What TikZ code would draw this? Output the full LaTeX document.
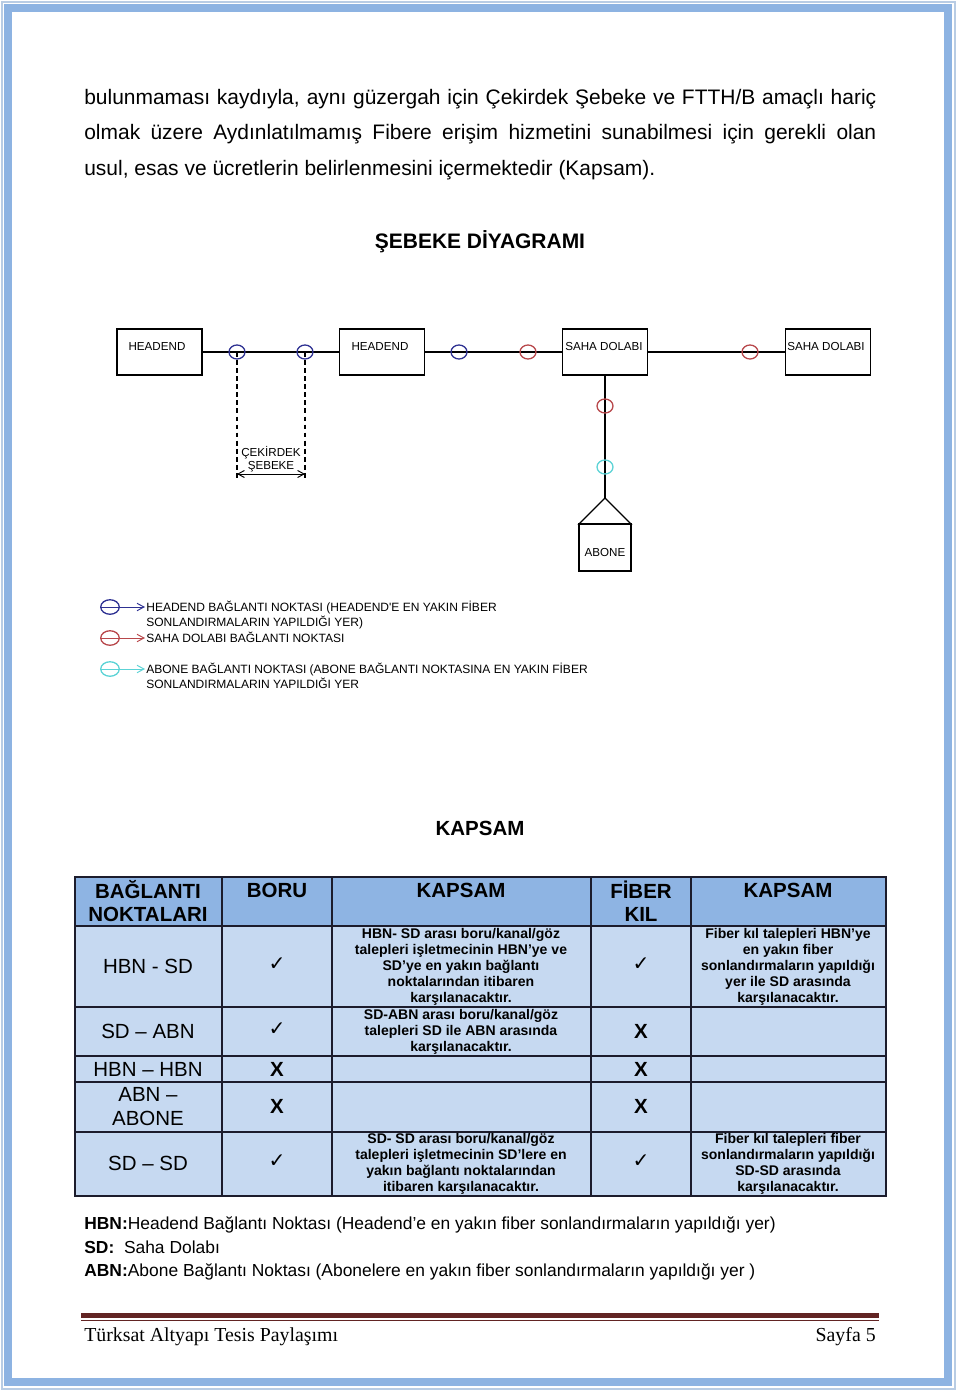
\documentclass[tikz,border=0pt]{standalone}
\usepackage{fontspec}
\setmainfont{Liberation Sans}
\newfontfamily\footfont{Liberation Serif}
\newfontfamily\symft{DejaVu Sans}
\usetikzlibrary{arrows.meta,shapes.geometric}
\definecolor{bandblue}{HTML}{8DB3E2}
\definecolor{edgeblue}{HTML}{B8CCE4}
\definecolor{hdrblue}{HTML}{8EB4E3}
\definecolor{cellblue}{HTML}{C6D9F1}
\definecolor{gridc}{HTML}{1C1C2C}
\definecolor{navyc}{HTML}{2E3192}
\definecolor{redc}{HTML}{B8474B}
\definecolor{cyanc}{HTML}{5CD3D6}
\definecolor{footred}{HTML}{622423}
\newcommand{\fsz}[2]{\fontsize{#1}{#2}\selectfont}
\tikzset{
  dbox/.style={draw, line width=0.8pt, rectangle, inner sep=0pt, minimum width=52.7pt, minimum height=28.5pt},
  dlabel/.style={inner sep=0pt, anchor=base, font=\fsz{7.2}{8.6}},
  wire/.style={line width=0.8pt},
  conn/.style={ellipse, draw, line width=0.8pt, inner sep=0pt, minimum width=9.9pt, minimum height=8.7pt},
  lconn/.style={ellipse, draw, line width=0.8pt, inner sep=0pt, minimum width=11.5pt, minimum height=9pt},
  legtext/.style={inner sep=0pt, anchor=base west, font=\fsz{7.45}{8.8}},
  larrow/.style={line width=0.6pt, -{Straight Barb[length=4.3pt,width=4.6pt,line width=0.6pt]}},
  bodytext/.style={inner sep=0pt, anchor=base west, font=\fsz{13}{15}},
  hdr/.style={inner sep=0pt, align=center, font=\fsz{12.7}{14.3}\bfseries},
  rowlab/.style={inner sep=0pt, align=center, font=\fsz{12.7}{14.9}},
  desc/.style={inner sep=0pt, align=center, font=\fsz{8.7}{9.92}\bfseries},
  tick/.style={inner sep=0pt, font=\symft\fsz{12.5}{14}},
  cross/.style={inner sep=0pt, font=\fsz{12.7}{14}\bfseries},
  note/.style={inner sep=0pt, anchor=base west, font=\fsz{10.8}{13}},
  grid/.style={draw=gridc, line width=0.9pt}
}
\begin{document}
\begin{tikzpicture}[x=0.62pt,y=-0.62pt]
\useasboundingbox (0,0) rectangle (960,1396);
\fill[white] (0,0) rectangle (960,1396);
% page frame
\draw[edgeblue, line width=1pt] (2,2) rectangle (955,1389);
\draw[bandblue, line width=4.6pt] (8,8) rectangle (948,1382);

% body text
\node[bodytext] (p1) at (84,104) {\makebox[491pt][s]{bulunmaması kaydıyla, aynı güzergah için Çekirdek Şebeke ve FTTH/B amaçlı hariç}};
\node[bodytext] (p2) at (84,139.5) {\makebox[491pt][s]{olmak üzere Aydınlatılmamış Fibere erişim hizmetini sunabilmesi için gerekli olan}};
\node[bodytext] (p3) at (84,175) {usul, esas ve ücretlerin belirlenmesini içermektedir (Kapsam).};

\node[inner sep=0pt, anchor=base, font=\fsz{13}{15}\bfseries] (t1) at (480,248) {ŞEBEKE DİYAGRAMI};

% network diagram
\node[dbox] (h1) at (159.5,352) {};
\node[dbox] (h2) at (382,352) {};
\node[dbox] (s1) at (605,352) {};
\node[dbox] (s2) at (828,352) {};
\node[dlabel] (h1t) at (157,350) {HEADEND};
\node[dlabel] (h2t) at (380,350) {HEADEND};
\node[dlabel] (s1t) at (604,350) {SAHA DOLABI};
\node[dlabel] (s2t) at (826,350) {SAHA DOLABI};

\draw[wire] (h1.east) -- (h2.west);
\draw[wire] (h2.east) -- (s1.west);
\draw[wire] (s1.east) -- (s2.west);

\coordinate (ap) at (605,498);
\draw[wire] (s1.south) -- (ap);
\draw[wire] (ap) -- (579,524) -- (631,524) -- cycle;
\node[dbox, minimum width=32.2pt, minimum height=29.1pt] (ab) at (605,547.5) {};
\node[dlabel] (abt) at (605,556) {ABONE};

\node[conn, draw=navyc] (c1) at (237,352) {};
\node[conn, draw=navyc] (c2) at (305,352) {};
\node[conn, draw=navyc] (c3) at (459,352) {};
\node[conn, draw=redc] (c4) at (528,352) {};
\node[conn, draw=redc] (c5) at (750,352) {};
\node[conn, draw=redc] (c6) at (605,406) {};
\node[conn, draw=cyanc] (c7) at (605,467) {};

\coordinate (d1) at (237,479);
\coordinate (d2) at (305,479);
\draw[line width=0.8pt, dash pattern=on 3pt off 2pt] (c1.center) -- (d1);
\draw[line width=0.8pt, dash pattern=on 3pt off 2pt] (c2.center) -- (d2);
\coordinate (e1) at (237,474);
\coordinate (e2) at (305,474);
\draw[line width=0.6pt, {Straight Barb[length=4pt,width=4.4pt,line width=0.6pt]}-{Straight Barb[length=4pt,width=4.4pt,line width=0.6pt]}] (e1) -- (e2);
\node[dlabel] (ck1) at (271,456) {ÇEKİRDEK};
\node[dlabel] (ck2) at (271,469) {ŞEBEKE};

% legend
\node[lconn, draw=navyc] (l1) at (110,607) {};
\node[lconn, draw=redc] (l2) at (110,638) {};
\node[lconn, draw=cyanc] (l3) at (110,669) {};
\coordinate (la1) at (145,607);
\coordinate (la2) at (145,638);
\coordinate (la3) at (145,669);
\draw[larrow, navyc] (l1.west) -- (la1);
\draw[larrow, redc] (l2.west) -- (la2);
\draw[larrow, cyanc] (l3.west) -- (la3);
\node[legtext] (lt1) at (146,611) {HEADEND BAĞLANTI NOKTASI (HEADEND\textquotesingle E EN YAKIN FİBER};
\node[legtext] (lt1b) at (146,626) {SONLANDIRMALARIN YAPILDIĞI YER)};
\node[legtext] (lt2) at (146,642) {SAHA DOLABI BAĞLANTI NOKTASI};
\node[legtext] (lt3) at (146,673) {ABONE BAĞLANTI NOKTASI (ABONE BAĞLANTI NOKTASINA EN YAKIN FİBER};
\node[legtext] (lt3b) at (146,688) {SONLANDIRMALARIN YAPILDIĞI YER};

% table
\node[inner sep=0pt, anchor=base, font=\fsz{12.7}{14}\bfseries] (t2) at (480,835) {KAPSAM};
\fill[hdrblue] (75,877) rectangle (886,926);
\fill[cellblue] (75,926) rectangle (886,1196);
\draw[grid] (75,877) rectangle (886,1196);
\foreach \yy in {926,1007,1056,1082,1132} \draw[grid] (75,\yy) -- (886,\yy);
\foreach \xx in {222,332,591,691} \draw[grid] (\xx,877) -- (\xx,1196);

\node[hdr] (th1) at (148,901) {BAĞLANTI\\NOKTALARI};
\node[hdr] (th2) at (277,890) {BORU};
\node[hdr] (th3) at (461,890) {KAPSAM};
\node[hdr] (th4) at (641,901) {FİBER\\KIL};
\node[hdr] (th5) at (788,890) {KAPSAM};

\node[rowlab] (r1) at (148,966) {HBN - SD};
\node[rowlab] (r2) at (148,1031) {SD – ABN};
\node[rowlab] (r3) at (148,1069) {HBN – HBN};
\node[rowlab] (r4) at (148,1107) {ABN –\\ABONE};
\node[rowlab] (r5) at (148,1163) {SD – SD};

\node[tick] (b1) at (277,964) {✓};
\node[tick] (b2) at (277,1029) {✓};
\node[cross] (b3) at (277,1069) {X};
\node[cross] (b4) at (277,1106) {X};
\node[tick] (b5) at (277,1161) {✓};

\node[tick] (f1) at (641,964) {✓};
\node[cross] (f2) at (641,1031) {X};
\node[cross] (f3) at (641,1069) {X};
\node[cross] (f4) at (641,1106) {X};
\node[tick] (f5) at (641,1161) {✓};

\node[desc] (k1) at (461,967) {HBN- SD arası boru/kanal/göz\\talepleri işletmecinin HBN’ye ve\\SD’ye en yakın bağlantı\\noktalarından itibaren\\karşılanacaktır.};
\node[desc] (k2) at (461,1032) {SD-ABN arası boru/kanal/göz\\talepleri SD ile ABN arasında\\karşılanacaktır.};
\node[desc] (k3) at (461,1164) {SD- SD arası boru/kanal/göz\\talepleri işletmecinin SD’lere en\\yakın bağlantı noktalarından\\itibaren karşılanacaktır.};
\node[desc] (m1) at (788,967) {Fiber kıl talepleri HBN’ye\\en yakın fiber\\sonlandırmaların yapıldığı\\yer ile SD arasında\\karşılanacaktır.};
\node[desc] (m2) at (788,1164) {Fiber kıl talepleri fiber\\sonlandırmaların yapıldığı\\SD-SD arasında\\karşılanacaktır.};

% notes
\node[note] (n1) at (84,1229) {\textbf{HBN:}Headend Bağlantı Noktası (Headend’e en yakın fiber sonlandırmaların yapıldığı yer)};
\node[note] (n2) at (84,1253) {\textbf{SD:}\ \ Saha Dolabı};
\node[note] (n3) at (84,1276) {\textbf{ABN:}Abone Bağlantı Noktası (Abonelere en yakın fiber sonlandırmaların yapıldığı yer )};

% footer
\fill[footred] (81,1313) rectangle (879,1318);
\draw[footred, line width=0.5pt] (81,1320.5) -- (879,1320.5);
\node[inner sep=0pt, anchor=base west, font=\footfont\fsz{12.3}{14}] (ft1) at (84,1341) {Türksat Altyapı Tesis Paylaşımı};
\node[inner sep=0pt, anchor=base east, font=\footfont\fsz{12.3}{14}] (ft2) at (876,1341) {Sayfa 5};
\end{tikzpicture}
\end{document}
